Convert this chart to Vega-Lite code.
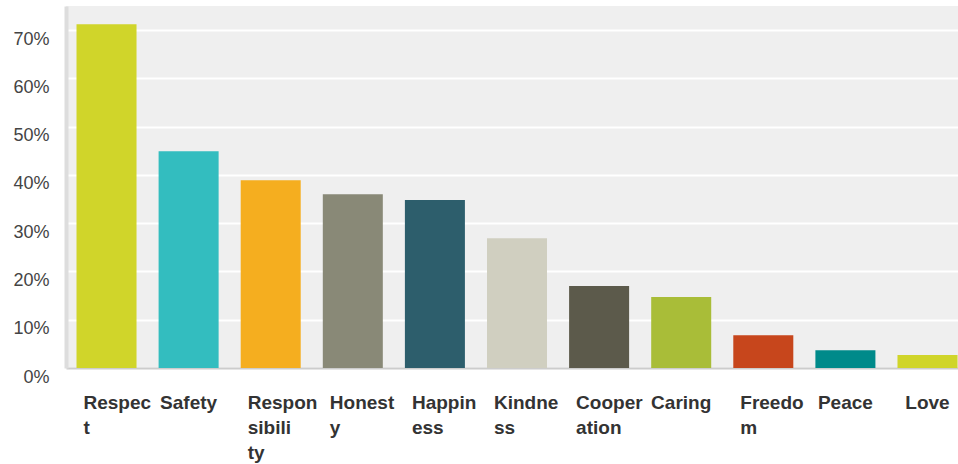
{
  "$schema": "https://vega.github.io/schema/vega-lite/v6.json",
  "width": 892,
  "height": 362,
  "autosize": {"type": "none"},
  "padding": {"left": 66, "top": 6, "right": 0, "bottom": 96},
  "background": "white",
  "config": {"view": {"fill": "#efefef", "stroke": null}},
  "data": {
    "values": [
      {"answer": "Respect", "pct": 71.2},
      {"answer": "Safety", "pct": 44.9},
      {"answer": "Responsibility", "pct": 38.9},
      {"answer": "Honesty", "pct": 36.0},
      {"answer": "Happiness", "pct": 34.8},
      {"answer": "Kindness", "pct": 26.9},
      {"answer": "Cooperation", "pct": 17.0},
      {"answer": "Caring", "pct": 14.7},
      {"answer": "Freedom", "pct": 6.8},
      {"answer": "Peace", "pct": 3.7},
      {"answer": "Love", "pct": 2.7}
    ]
  },
  "mark": {"type": "bar"},
  "encoding": {
    "x": {
      "field": "answer",
      "type": "nominal",
      "sort": null,
      "scale": {"paddingInner": 0.269, "paddingOuter": 0.067, "align": 0.955},
      "axis": {
        "title": null,
        "labelAngle": 0,
        "ticks": false,
        "domainColor": "#cccccc",
        "domainWidth": 2,
        "labelFont": "Liberation Sans",
        "labelFontWeight": "bold",
        "labelFontSize": 19,
        "labelColor": "#333333",
        "labelPadding": 25,
        "labelBaseline": "top",
        "labelLineHeight": 25,
        "labelLimit": 0,
        "labelOverlap": false,
        "labelExpr": "length(datum.label) > 12 ? [substring(datum.label,0,6), substring(datum.label,6,12), substring(datum.label,12,18)] : (length(datum.label) > 6 ? [substring(datum.label,0,6), substring(datum.label,6,12)] : datum.label)",
        "labelAlign": {"condition": {"test": "length(datum.label) > 6", "value": "left"}, "value": "center"},
        "labelOffset": {"condition": {"test": "length(datum.label) > 6", "value": -23}, "value": 0}
      }
    },
    "y": {
      "field": "pct",
      "type": "quantitative",
      "scale": {"domain": [0, 75], "nice": false},
      "axis": {
        "title": null,
        "values": [0, 10, 20, 30, 40, 50, 60, 70],
        "labelExpr": "datum.value + '%'",
        "grid": true,
        "gridColor": "#ffffff",
        "gridWidth": 2,
        "ticks": false,
        "domainColor": "#dddddd",
        "domainWidth": 4,
        "labelFont": "Liberation Sans",
        "labelFontSize": 18,
        "labelColor": "#444444",
        "labelPadding": 17,
        "labelOffset": 9,
        "labelFlush": false,
        "labelOverlap": false,
        "labelBound": false
      }
    },
    "color": {
      "field": "answer",
      "type": "nominal",
      "legend": null,
      "scale": {
        "domain": ["Respect", "Safety", "Responsibility", "Honesty", "Happiness", "Kindness", "Cooperation", "Caring", "Freedom", "Peace", "Love"],
        "range": ["#d0d52a", "#33bdbf", "#f5ae1f", "#898977", "#2d5e6c", "#d0cfc0", "#5c5a4b", "#a9bd38", "#c7461c", "#008a8a", "#d0d52a"]
      }
    }
  }
}
